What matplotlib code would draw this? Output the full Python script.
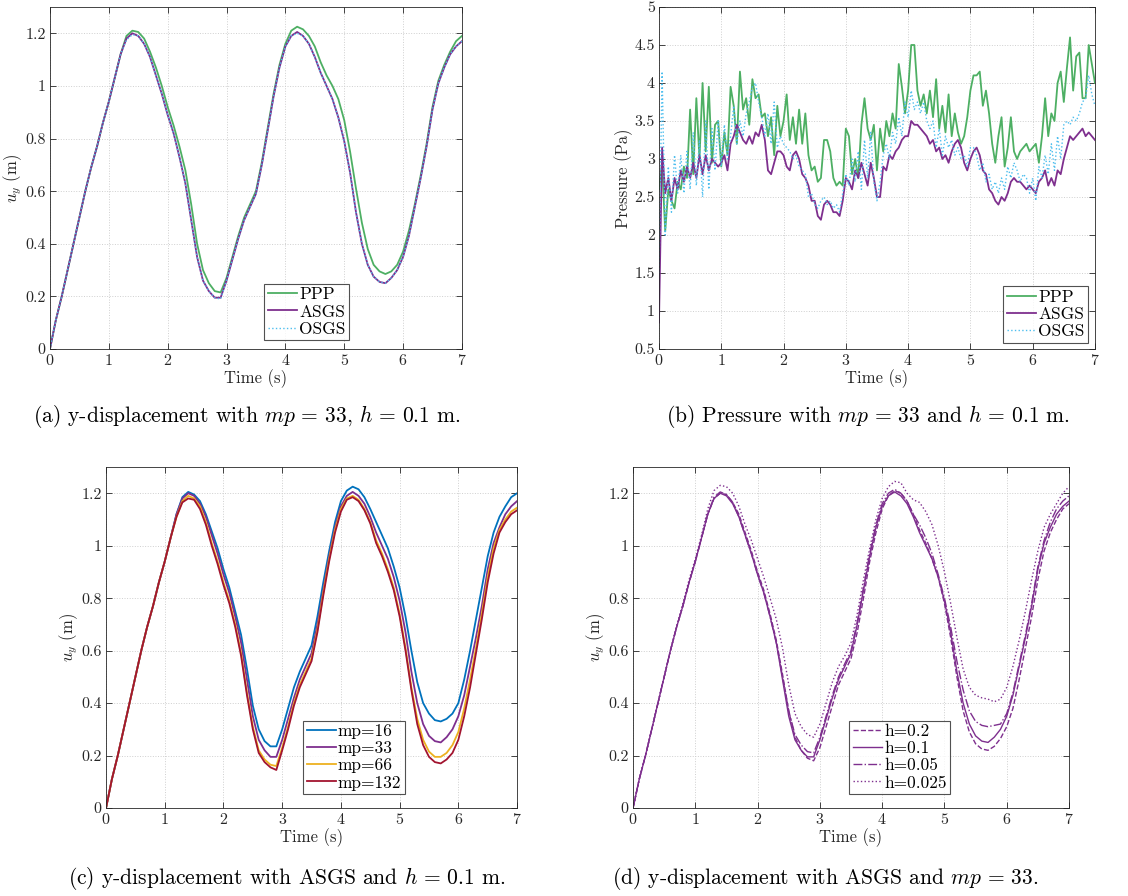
import numpy as np
import matplotlib
matplotlib.use("Agg")
import matplotlib.pyplot as plt
from matplotlib.ticker import FuncFormatter

# Time samples
t_uy = np.linspace(0, 7, 71)       # displacement curves, every 0.1 s
t_p = np.linspace(0, 7, 141)       # pressure curves, every 0.05 s

# (a) y-displacement, mp=33, h=0.1
ppp_uy = [0.00, 0.11, 0.20, 0.30, 0.40, 0.50, 0.60, 0.69, 0.77, 0.86,
          0.94, 1.03, 1.12, 1.19, 1.21, 1.205, 1.18, 1.13, 1.07, 1.00,
          0.92, 0.85, 0.77, 0.68, 0.55, 0.40, 0.30, 0.25, 0.22, 0.215,
          0.27, 0.35, 0.43, 0.50, 0.55, 0.60, 0.71, 0.84, 0.97, 1.08,
          1.16, 1.21, 1.225, 1.215, 1.19, 1.15, 1.09, 1.04, 1.00, 0.95,
          0.87, 0.75, 0.61, 0.48, 0.38, 0.32, 0.295, 0.285, 0.295, 0.32,
          0.37, 0.45, 0.55, 0.66, 0.78, 0.92, 1.02, 1.08, 1.13, 1.17,
          1.19]
asgs_uy = [0.00, 0.11, 0.20, 0.30, 0.40, 0.50, 0.60, 0.69, 0.77, 0.86,
           0.94, 1.03, 1.12, 1.18, 1.20, 1.19, 1.16, 1.11, 1.04, 0.97,
           0.89, 0.82, 0.73, 0.63, 0.49, 0.35, 0.26, 0.22, 0.195, 0.195,
           0.26, 0.34, 0.42, 0.49, 0.54, 0.59, 0.70, 0.83, 0.96, 1.07,
           1.15, 1.19, 1.205, 1.19, 1.16, 1.11, 1.05, 1.00, 0.95, 0.88,
           0.79, 0.67, 0.52, 0.40, 0.32, 0.275, 0.255, 0.25, 0.27, 0.30,
           0.35, 0.43, 0.54, 0.65, 0.77, 0.91, 1.01, 1.07, 1.12, 1.15,
           1.17]
osgs_uy = [0.00, 0.11, 0.20, 0.30, 0.40, 0.50, 0.60, 0.69, 0.77, 0.86,
           0.94, 1.03, 1.12, 1.175, 1.195, 1.19, 1.16, 1.11, 1.04, 0.97,
           0.89, 0.82, 0.73, 0.63, 0.49, 0.35, 0.26, 0.22, 0.195, 0.19,
           0.26, 0.34, 0.42, 0.49, 0.54, 0.59, 0.70, 0.83, 0.96, 1.07,
           1.15, 1.19, 1.20, 1.19, 1.16, 1.11, 1.05, 1.00, 0.95, 0.88,
           0.79, 0.67, 0.52, 0.40, 0.32, 0.275, 0.255, 0.25, 0.27, 0.30,
           0.35, 0.43, 0.54, 0.65, 0.77, 0.91, 1.01, 1.07, 1.12, 1.15,
           1.17]

# (b) pressure, mp=33, h=0.1
ppp_p = [2.6, 2.95, 2.05, 2.6, 2.45, 2.35, 2.7, 2.6, 2.9, 2.75,
         3.65, 2.8, 3.8, 3.0, 4.0, 3.1, 3.95, 2.95, 3.45, 3.5,
         2.9, 3.35, 3.05, 3.95, 3.7, 3.2, 4.15, 3.65, 3.8, 3.45,
         4.05, 3.8, 3.85, 3.55, 3.6, 3.3, 3.55, 3.05, 3.7, 3.3,
         3.5, 3.85, 3.25, 3.55, 3.2, 3.65, 3.2, 3.6, 3.05, 2.85,
         2.9, 2.7, 2.75, 3.25, 3.25, 3.1, 2.75, 2.65, 2.7, 2.65,
         3.4, 3.3, 2.8, 3.0, 2.75, 3.45, 3.8, 3.4, 3.25, 3.45,
         2.85, 3.4, 3.1, 3.5, 3.3, 3.6, 3.4, 4.25, 3.95, 3.6,
         3.9, 4.5, 4.5, 3.9, 3.7, 3.85, 3.6, 3.9, 3.55, 4.05,
         3.4, 3.7, 3.35, 3.85, 3.3, 3.6, 3.35, 3.2, 3.3, 3.55,
         3.9, 4.1, 4.1, 4.15, 3.7, 3.9, 3.6, 3.2, 2.95, 3.3,
         3.55, 2.9, 3.15, 3.55, 3.1, 3.0, 3.1, 3.15, 3.2, 3.1,
         3.15, 3.2, 2.95, 3.3, 3.8, 3.3, 3.6, 3.5, 4.0, 4.15,
         3.75, 4.2, 4.6, 3.9, 4.35, 4.4, 3.8, 3.8, 4.5, 4.25,
         4.0]
asgs_p = [0.85, 3.15, 2.55, 2.75, 2.45, 2.75, 2.6, 2.85, 2.7, 2.9,
          2.75, 2.95, 2.75, 3.05, 2.8, 3.05, 2.85, 3.0, 2.95, 2.9,
          2.95, 3.05, 2.85, 3.2, 3.3, 3.45, 3.35, 3.25, 3.2, 3.3,
          3.2, 3.35, 3.3, 3.45, 3.25, 2.85, 2.8, 2.95, 3.1, 3.1,
          3.05, 2.9, 2.85, 3.05, 3.1, 3.0, 2.8, 2.75, 2.65, 2.45,
          2.45, 2.25, 2.2, 2.4, 2.45, 2.4, 2.3, 2.3, 2.25, 2.45,
          2.75, 2.7, 2.6, 2.85, 2.75, 2.95, 2.8, 2.65, 2.95, 2.75,
          2.5, 2.5, 2.9, 2.85, 3.05, 3.0, 3.1, 3.15, 3.25, 3.3,
          3.3, 3.5, 3.45, 3.45, 3.4, 3.35, 3.3, 3.2, 3.25, 3.1,
          3.15, 3.0, 3.05, 2.95, 3.1, 3.2, 3.25, 3.15, 2.95, 2.85,
          3.0, 3.1, 3.15, 3.05, 2.85, 2.8, 2.6, 2.55, 2.45, 2.4,
          2.5, 2.45, 2.55, 2.7, 2.75, 2.7, 2.7, 2.65, 2.6, 2.65,
          2.6, 2.55, 2.7, 2.75, 2.85, 2.65, 2.75, 2.65, 2.85, 2.8,
          3.0, 3.15, 3.3, 3.25, 3.3, 3.35, 3.4, 3.3, 3.35, 3.3,
          3.25]
osgs_p = [1.5, 4.15, 2.0, 2.9, 2.3, 3.05, 2.55, 3.05, 2.55, 3.1,
          2.6, 3.35, 2.65, 3.25, 2.5, 3.5, 2.6, 3.4, 2.85, 3.5,
          2.9, 3.45, 3.0, 3.3, 3.7, 3.2, 3.5, 3.3, 3.6, 3.75,
          3.95, 4.0, 3.75, 3.55, 3.3, 3.6, 3.2, 3.75, 3.15, 3.3,
          3.2, 3.15, 3.1, 3.0, 3.05, 2.9, 2.85, 2.8, 2.5, 2.55,
          2.4, 2.35, 2.45, 2.5, 2.4, 2.45, 2.35, 2.4, 2.3, 2.55,
          2.8, 2.65, 3.0, 2.7, 3.1, 2.6, 3.25, 2.75, 3.35, 2.7,
          2.45, 2.7, 3.05, 3.2, 3.0, 3.35, 3.2, 3.55, 3.3, 3.75,
          3.55, 3.9, 3.65, 3.75, 3.6, 3.75, 3.5, 3.4, 3.5, 3.15,
          3.4, 3.05, 3.3, 3.15, 3.25, 3.05, 3.15, 3.0, 3.05, 2.9,
          3.15, 3.15, 3.05, 2.85, 2.95, 2.7, 2.8, 2.6, 2.7, 2.55,
          2.75, 2.6, 2.9, 2.75, 2.95, 2.85, 2.7, 2.8, 2.75, 2.55,
          2.75, 2.45, 2.9, 2.75, 3.05, 2.8, 3.2, 2.85, 3.3, 3.0,
          3.45, 3.5, 3.45, 3.55, 3.5, 3.6, 3.75, 3.8, 4.1, 3.85,
          3.7]

# (c) y-displacement with ASGS, h=0.1, several mp (mp=33 is asgs_uy)
mp16_uy = [0.00, 0.11, 0.20, 0.30, 0.40, 0.50, 0.60, 0.69, 0.77, 0.86,
           0.94, 1.03, 1.12, 1.185, 1.205, 1.195, 1.17, 1.12, 1.055, 0.99,
           0.91, 0.84, 0.75, 0.66, 0.53, 0.39, 0.30, 0.255, 0.235, 0.235,
           0.30, 0.38, 0.46, 0.52, 0.57, 0.62, 0.73, 0.86, 0.98, 1.09,
           1.17, 1.21, 1.225, 1.215, 1.185, 1.14, 1.09, 1.04, 0.99, 0.92,
           0.84, 0.73, 0.60, 0.48, 0.40, 0.36, 0.335, 0.33, 0.34, 0.36,
           0.40, 0.49, 0.60, 0.72, 0.84, 0.96, 1.05, 1.11, 1.15, 1.185,
           1.20]
mp66_uy = [0.00, 0.11, 0.20, 0.30, 0.40, 0.50, 0.60, 0.69, 0.77, 0.86,
           0.94, 1.03, 1.11, 1.17, 1.19, 1.18, 1.15, 1.09, 1.01, 0.94,
           0.86, 0.79, 0.70, 0.59, 0.44, 0.31, 0.22, 0.185, 0.165, 0.16,
           0.23, 0.31, 0.40, 0.47, 0.52, 0.57, 0.68, 0.82, 0.95, 1.06,
           1.14, 1.18, 1.19, 1.175, 1.14, 1.09, 1.02, 0.97, 0.91, 0.84,
           0.74, 0.61, 0.46, 0.34, 0.26, 0.215, 0.195, 0.195, 0.21, 0.24,
           0.29, 0.38, 0.49, 0.61, 0.74, 0.88, 0.99, 1.06, 1.10, 1.13,
           1.145]
mp132_uy = [0.00, 0.11, 0.20, 0.30, 0.40, 0.50, 0.60, 0.69, 0.77, 0.86,
            0.94, 1.03, 1.11, 1.165, 1.18, 1.175, 1.14, 1.08, 1.00, 0.93,
            0.85, 0.78, 0.69, 0.58, 0.43, 0.30, 0.21, 0.175, 0.155, 0.145,
            0.22, 0.30, 0.39, 0.46, 0.51, 0.56, 0.67, 0.81, 0.94, 1.05,
            1.13, 1.175, 1.185, 1.17, 1.135, 1.085, 1.01, 0.96, 0.90, 0.83,
            0.73, 0.60, 0.45, 0.32, 0.24, 0.195, 0.175, 0.17, 0.185, 0.21,
            0.26, 0.35, 0.46, 0.59, 0.72, 0.86, 0.97, 1.05, 1.09, 1.12,
            1.135]

# (d) y-displacement with ASGS, mp=33, several h (h=0.1 is asgs_uy)
h02_uy = [0.00, 0.11, 0.20, 0.30, 0.40, 0.50, 0.60, 0.69, 0.77, 0.86,
          0.94, 1.03, 1.12, 1.18, 1.20, 1.195, 1.165, 1.12, 1.05, 0.98,
          0.90, 0.83, 0.74, 0.64, 0.51, 0.37, 0.27, 0.22, 0.19, 0.18,
          0.23, 0.31, 0.39, 0.47, 0.52, 0.57, 0.67, 0.80, 0.94, 1.05,
          1.14, 1.19, 1.21, 1.20, 1.17, 1.12, 1.06, 1.01, 0.95, 0.88,
          0.78, 0.65, 0.50, 0.37, 0.29, 0.245, 0.225, 0.22, 0.235, 0.265,
          0.31, 0.38, 0.49, 0.61, 0.73, 0.87, 0.98, 1.05, 1.10, 1.14,
          1.16]
h005_uy = [0.00, 0.11, 0.20, 0.30, 0.40, 0.50, 0.60, 0.69, 0.77, 0.86,
           0.94, 1.03, 1.12, 1.185, 1.205, 1.195, 1.165, 1.11, 1.04, 0.97,
           0.89, 0.82, 0.73, 0.63, 0.50, 0.37, 0.28, 0.24, 0.215, 0.21,
           0.27, 0.35, 0.43, 0.50, 0.55, 0.60, 0.71, 0.84, 0.97, 1.08,
           1.16, 1.20, 1.215, 1.20, 1.17, 1.12, 1.08, 1.03, 0.97, 0.89,
           0.80, 0.69, 0.56, 0.45, 0.37, 0.33, 0.315, 0.31, 0.315, 0.32,
           0.36, 0.44, 0.55, 0.66, 0.78, 0.92, 1.02, 1.09, 1.14, 1.17,
           1.19]
h0025_uy = [0.00, 0.11, 0.20, 0.30, 0.40, 0.50, 0.60, 0.69, 0.78, 0.87,
            0.95, 1.04, 1.14, 1.21, 1.23, 1.225, 1.20, 1.15, 1.08, 1.02,
            0.95, 0.88, 0.80, 0.72, 0.61, 0.47, 0.36, 0.31, 0.28, 0.27,
            0.32, 0.40, 0.48, 0.54, 0.58, 0.63, 0.74, 0.87, 0.99, 1.10,
            1.18, 1.225, 1.245, 1.24, 1.20, 1.175, 1.165, 1.13, 1.08, 1.00,
            0.90, 0.78, 0.65, 0.53, 0.46, 0.43, 0.42, 0.415, 0.405, 0.415,
            0.46, 0.54, 0.64, 0.75, 0.87, 0.98, 1.07, 1.12, 1.16, 1.20,
            1.225]

# MATLAB-like colours
green = "#4DAF63"
purple = "#7E2F8E"
lightblue = "#4DBEEE"
blue = "#0072BD"
yellow = "#EDB120"
red = "#A2142F"
dark = "#262626"

plt.rcParams.update({
    "font.family": "serif",
    "font.serif": ["cmr10"],
    "mathtext.fontset": "cm",
    "axes.formatter.use_mathtext": True,
    "axes.unicode_minus": False,
})

fig = plt.figure(figsize=(11.28, 8.96), dpi=100)
ax_a = fig.add_axes([0.0443, 0.6105, 0.3652, 0.3817])
ax_b = fig.add_axes([0.5842, 0.6105, 0.3865, 0.3817])
ax_c = fig.add_axes([0.0940, 0.0982, 0.3644, 0.3806])
ax_d = fig.add_axes([0.5612, 0.0982, 0.3865, 0.3806])


def style_axes(ax, ylim, yticks, ylabel):
    ax.set_xlim(0, 7)
    ax.set_ylim(*ylim)
    ax.set_xticks(range(8))
    ax.set_yticks(yticks)
    ax.yaxis.set_major_formatter(FuncFormatter(lambda v, p: f"{v:g}"))
    ax.tick_params(direction="in", top=True, right=True, length=4, width=0.6,
                   labelsize=11.5, colors=dark, pad=3)
    ax.grid(True, linestyle=":", color="#cfcfcf", linewidth=0.7)
    for s in ax.spines.values():
        s.set_color(dark)
        s.set_linewidth(0.6)
    ax.set_xlabel("Time (s)", fontsize=12, color=dark, labelpad=1)
    ax.set_ylabel(ylabel, fontsize=12, color=dark, labelpad=1)


def add_legend(ax, anchor):
    leg = ax.legend(loc="lower right", bbox_to_anchor=anchor, fontsize=12.5,
                    frameon=True, fancybox=False, edgecolor=dark,
                    handlelength=1.7, handletextpad=0.1, borderpad=0.2,
                    labelspacing=0.1, borderaxespad=0)
    leg.get_frame().set_linewidth(0.8)


uy_ticks = [0, 0.2, 0.4, 0.6, 0.8, 1.0, 1.2]

# (a)
ax_a.plot(t_uy, ppp_uy, color=green, lw=1.3, label="PPP")
ax_a.plot(t_uy, asgs_uy, color=purple, lw=1.3, label="ASGS")
ax_a.plot(t_uy, osgs_uy, color=lightblue, lw=1.0, ls=":", label="OSGS")
style_axes(ax_a, (0, 1.3), uy_ticks, "$u_y$ (m)")
add_legend(ax_a, (0.726, 0.026))

# (b)
ax_b.plot(t_p, ppp_p, color=green, lw=1.3, label="PPP")
ax_b.plot(t_p, asgs_p, color=purple, lw=1.3, label="ASGS")
ax_b.plot(t_p, osgs_p, color=lightblue, lw=1.0, ls=":", label="OSGS")
style_axes(ax_b, (0.5, 5), np.arange(0.5, 5.01, 0.5), "Pressure (Pa)")
add_legend(ax_b, (0.984, 0.018))

# (c)
ax_c.plot(t_uy, mp16_uy, color=blue, lw=1.3, label="mp=16")
ax_c.plot(t_uy, asgs_uy, color=purple, lw=1.3, label="mp=33")
ax_c.plot(t_uy, mp66_uy, color=yellow, lw=1.3, label="mp=66")
ax_c.plot(t_uy, mp132_uy, color=red, lw=1.3, label="mp=132")
style_axes(ax_c, (0, 1.3), uy_ticks, "$u_y$ (m)")
add_legend(ax_c, (0.727, 0.041))

# (d)
ax_d.plot(t_uy, h02_uy, color=purple, lw=1.0, ls="--", label="h=0.2")
ax_d.plot(t_uy, asgs_uy, color=purple, lw=1.0, ls="-", label="h=0.1")
ax_d.plot(t_uy, h005_uy, color=purple, lw=1.0, ls="-.", label="h=0.05")
ax_d.plot(t_uy, h0025_uy, color=purple, lw=1.0, ls=":", label="h=0.025")
style_axes(ax_d, (0, 1.3), uy_ticks, "$u_y$ (m)")
add_legend(ax_d, (0.727, 0.041))

# Sub-captions
cap_size = 15.5
fig.text(0.2187, 0.5346, r"(a) y-displacement with $mp\,=\,33$, $h\,=\,0.1$ m.",
         ha="center", va="center", fontsize=cap_size)
fig.text(0.7695, 0.5346, r"(b) Pressure with $mp\,=\,33$ and $h\,=\,0.1$ m.",
         ha="center", va="center", fontsize=cap_size)
fig.text(0.2544, 0.0200, r"(c) y-displacement with ASGS and $h\,=\,0.1$ m.",
         ha="center", va="center", fontsize=cap_size)
fig.text(0.7314, 0.0200, r"(d) y-displacement with ASGS and $mp\,=\,33$.",
         ha="center", va="center", fontsize=cap_size)

fig.savefig("out.png", dpi=100)
